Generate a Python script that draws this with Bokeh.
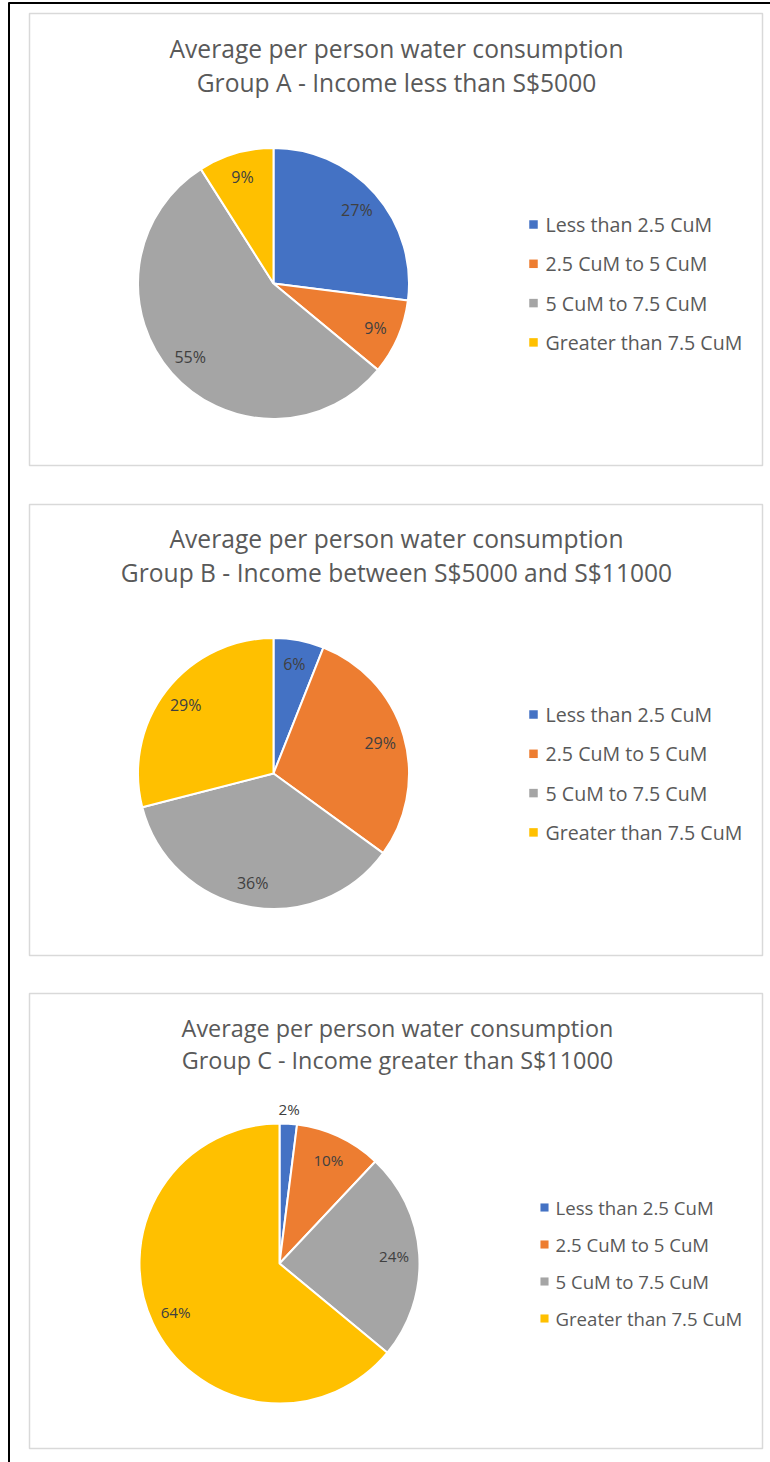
import math
from bokeh.plotting import figure
from bokeh.models import Range1d, ColumnDataSource
from bokeh.core.properties import value
from bokeh.embed import file_html
from bokeh.resources import INLINE

# ---------------- data ----------------
categories = ["Less than 2.5 CuM", "2.5 CuM to 5 CuM", "5 CuM to 7.5 CuM", "Greater than 7.5 CuM"]
group_a = [27, 9, 55, 9]
group_b = [6, 29, 36, 29]
group_c = [2, 10, 24, 64]
title_line1 = "Average per person water consumption"
title_a = "Group A - Income less than S$5000"
title_b = "Group B - Income between S$5000 and S$11000"
title_c = "Group C - Income greater than S$11000"

# ---------------- style ----------------
colors = ["#4472C4", "#ED7D31", "#A5A5A5", "#FFC000"]
FONT = "Open Sans"
TITLE_COLOR = "#595959"
LEGEND_COLOR = "#595959"
LABEL_COLOR = "#404040"

W, H = 770, 1462

def fy(py):
    return H - py

p = figure(width=W, height=H, output_backend="svg", toolbar_location=None,
           x_range=Range1d(0, W), y_range=Range1d(0, H),
           x_axis_location=None, y_axis_location=None, min_border=0,
           background_fill_color="white", border_fill_color="white")
p.outline_line_color = None
p.grid.visible = False

# outer black frame (left and top edges)
p.line(x=[8.5, 8.5], y=[fy(2), fy(1462)], line_color="black", line_width=2)
p.line(x=[8, 770], y=[fy(2.5), fy(2.5)], line_color="black", line_width=2)

panels = [
    dict(values=group_a, title=title_a, box=(29, 13, 762, 465), ty=(48, 82), tx=396,
         cx=273, cy=283, r=135.5, lx=533, ltx=545, ly=224, lstep=39.3, scale=1.0,
         label_r={}),
    dict(values=group_b, title=title_b, box=(29, 504, 762, 955), ty=(538, 572), tx=396,
         cx=273, cy=773, r=135.5, lx=533, ltx=545, ly=714, lstep=39.3, scale=1.0,
         label_r={}),
    dict(values=group_c, title=title_c, box=(29, 993, 762, 1448), ty=(1027, 1059), tx=397,
         cx=279, cy=1263, r=140, lx=544, ltx=555, ly=1207, lstep=37, scale=0.95,
         label_r={0: 1.105}),
]

for pn in panels:
    x0, y0, x1, y1 = pn["box"]
    # panel border
    p.quad(left=x0, right=x1, top=fy(y0), bottom=fy(y1), fill_color="white",
           line_color="#D9D9D9", line_width=1.5)
    s = pn["scale"]
    # title
    p.text(x=[pn["tx"], pn["tx"]], y=[fy(pn["ty"][0]), fy(pn["ty"][1])],
           text=[title_line1, pn["title"]], text_align="center", text_baseline="middle",
           text_font=value(FONT), text_font_size=f"{24.6*s:.1f}px", text_color=TITLE_COLOR)

    vals = pn["values"]
    total = float(sum(vals))
    cum = [0.0]
    for v in vals:
        cum.append(cum[-1] + v / total)
    start = [math.pi / 2 - 2 * math.pi * cum[i + 1] for i in range(len(vals))]
    end = [math.pi / 2 - 2 * math.pi * cum[i] for i in range(len(vals))]
    src = ColumnDataSource(dict(start=start, end=end, color=colors,
                                cat=categories, val=vals))
    p.wedge(x=pn["cx"], y=fy(pn["cy"]), radius=pn["r"], start_angle="start",
            end_angle="end", fill_color="color", line_color="white", line_width=2,
            source=src)

    # data labels
    lxs, lys, ltxt = [], [], []
    for i, v in enumerate(vals):
        mid = 2 * math.pi * (cum[i] + cum[i + 1]) / 2
        rf = pn["label_r"].get(i, 0.82)
        lxs.append(pn["cx"] + rf * pn["r"] * math.sin(mid))
        lys.append(fy(pn["cy"]) + rf * pn["r"] * math.cos(mid))
        ltxt.append(f"{v}%")
    p.text(x=lxs, y=lys, text=ltxt, text_align="center", text_baseline="middle",
           text_font=value(FONT), text_font_size=f"{16*s:.1f}px", text_color=LABEL_COLOR)

    # legend
    ly = [fy(pn["ly"] + k * pn["lstep"]) for k in range(len(categories))]
    p.rect(x=[pn["lx"]] * len(categories), y=ly, width=8.5 * s, height=8.5 * s,
           fill_color=colors, line_color=None)
    p.text(x=[pn["ltx"]] * len(categories), y=ly, text=categories, text_align="left",
           text_baseline="middle", text_font=value(FONT),
           text_font_size=f"{19.6*s:.1f}px", text_color=LEGEND_COLOR)

open("out.html", "w").write(file_html(p, INLINE))
